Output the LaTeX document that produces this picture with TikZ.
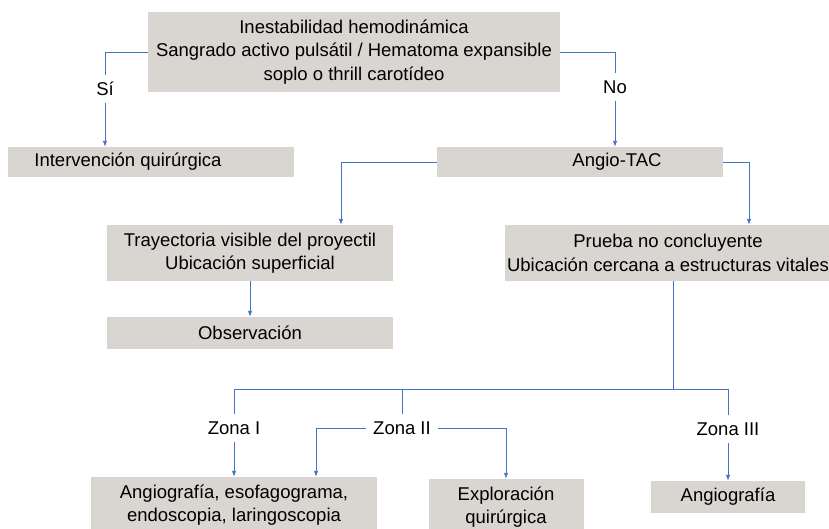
\documentclass[tikz,border=0pt]{standalone}
\usepackage{fontspec}
\setmainfont{Liberation Sans}
\usepackage{xcolor}
\usetikzlibrary{arrows.meta}

\definecolor{boxgray}{RGB}{217,213,209}
\definecolor{linkblue}{RGB}{68,114,196}

\begin{document}
\begin{tikzpicture}[
  x=1pt, y=-1pt,
  font=\fontsize{18.5}{23.5}\selectfont,
  box/.style={fill=boxgray, inner sep=0pt, align=center, minimum width=286pt},
  tag/.style={inner xsep=7pt, inner ysep=7pt},
  wire/.style={draw=linkblue, line width=0.9pt},
  edge/.style={wire, -{Latex[length=6pt,width=4.5pt]}}
]
\useasboundingbox (0,0) rectangle (829,528);

% boxes
\node[box, minimum width=412pt, minimum height=80pt] (cond) at (354,52)
  {Inestabilidad hemodinámica\\Sangrado activo pulsátil / Hematoma expansible\\soplo o thrill carotídeo};
\node[box, minimum height=30pt, label={[xshift=-23pt]center:Intervención quirúrgica}] (surg) at (151,162) {};
\node[box, minimum height=30pt, label={[xshift=37pt]center:Angio-TAC}] (tac) at (580,162) {};
\node[box, minimum height=56pt] (tray) at (250,253)
  {Trayectoria visible del proyectil\\Ubicación superficial};
\node[box, minimum width=327pt, minimum height=56pt] (prueba) at (668,253)
  {Prueba no concluyente\\Ubicación cercana a estructuras vitales};
\node[box, minimum height=32pt] (obs) at (250,333) {Observación};
\node[box, minimum height=56pt] (esof) at (234,505)
  {Angiografía, esofagograma,\\endoscopia, laringoscopia};
\node[box, minimum width=155pt, minimum height=56pt] (explor) at (506,507)
  {Exploración\\quirúrgica};
\node[box, minimum width=154pt, minimum height=32pt] (angio) at (728,497) {Angiografía};

% branch labels
\node[tag] (si) at (105,89) {Sí};
\node[tag] (no) at (615,87) {No};
\node[tag] (zona1) at (234,428) {Zona I};
\node[tag] (zona2) at (402,428) {Zona II};
\node[tag] (zona3) at (728,429) {Zona III};
\coordinate (bus) at (673,389);

% connectors
\draw[wire] (cond.west) -| (si.north);
\draw[edge] (si.south) -- (si.south |- surg.north);
\draw[wire] (cond.east) -| (no.north);
\draw[edge] (no.south) -- (no.south |- tac.north);
\draw[edge] (tac.west) -| ([xshift=91pt]tray.north);
\draw[edge] (tac.east) -| ([xshift=81pt]prueba.north);
\draw[edge] (tray.south) -- (obs.north);
\draw[wire] ([xshift=5pt]prueba.south) -- (bus);
\draw[wire] (bus) -| (zona1.north);
\draw[wire] (bus) -| (zona3.north);
\draw[wire] (zona2.north) -- (zona2.north |- bus);
\draw[edge] (zona1.south) -- (esof.north);
\draw[edge] (zona2.west) -| ([xshift=82pt]esof.north);
\draw[edge] (zona2.east) -| (explor.north);
\draw[edge] (zona3.south) -- (angio.north);
\end{tikzpicture}
\end{document}
